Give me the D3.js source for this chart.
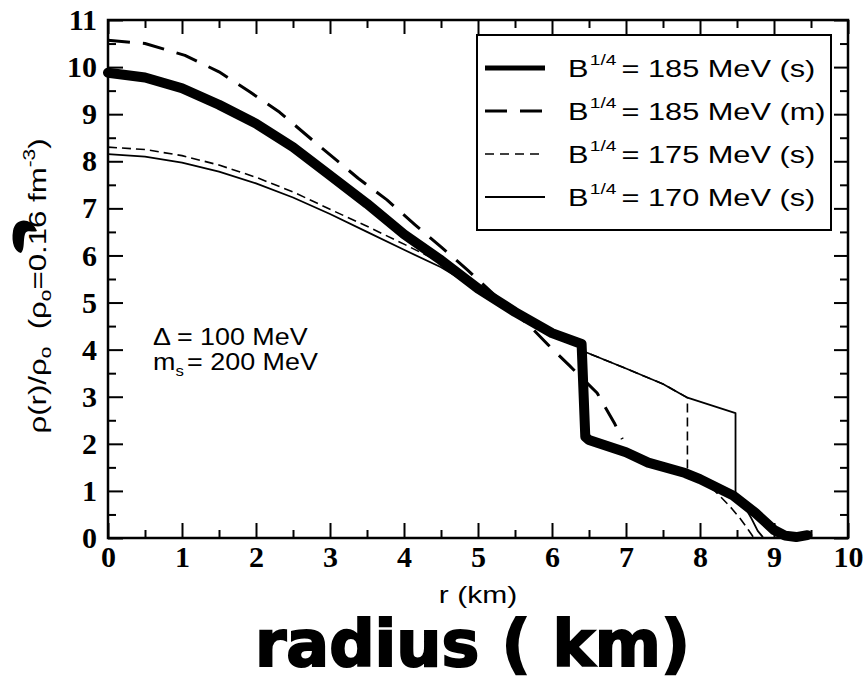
<!DOCTYPE html>
<html>
<head>
<meta charset="utf-8">
<script src="https://cdn.jsdelivr.net/npm/d3@7"></script>
<style>
body { margin: 0; background: #fff; }
</style>
</head>
<body>
<div id="chart"></div>
<script>
// values (r in km, density in units of rho_0)
var r185s   = [0, 0.5, 1, 1.5, 2, 2.5, 3, 3.5, 4, 4.5, 5, 5.5, 6, 6.4, 6.45, 6.5, 7, 7.3, 7.8, 8, 8.45, 8.75, 9.0, 9.15, 9.3, 9.45];
var rho185s = [9.88, 9.78, 9.55, 9.2, 8.8, 8.3, 7.7, 7.1, 6.45, 5.9, 5.3, 4.8, 4.35, 4.12, 2.15, 2.08, 1.82, 1.6, 1.38, 1.25, 0.9, 0.53, 0.17, 0.05, 0.02, 0.06];

var r185m   = [0, 0.5, 1.04, 1.5, 1.92, 2.32, 2.8, 3.38, 3.77, 4.15, 4.5, 4.86, 5.3, 5.7, 5.95, 6.23, 6.61, 6.85, 6.95];
var rho185m = [10.57, 10.5, 10.25, 9.9, 9.47, 9.04, 8.4, 7.64, 7.18, 6.65, 6.18, 5.69, 5.05, 4.5, 4.1, 3.67, 3.08, 2.42, 2.1];

var r175s   = [0, 0.5, 1, 1.5, 2, 2.5, 3, 3.5, 4, 4.5, 5, 5.5, 6, 6.4, 6.45, 7, 7.5, 7.83, 7.83, 8.0, 8.2, 8.4, 8.55, 8.65, 8.72];
var rho175s = [8.3, 8.25, 8.12, 7.92, 7.66, 7.35, 6.98, 6.62, 6.24, 5.85, 5.35, 4.85, 4.3, 4.05, 3.95, 3.6, 3.27, 2.98, 1.35, 1.22, 1.0, 0.68, 0.4, 0.18, 0.02];

var r170s   = [0, 0.5, 1, 1.5, 2, 2.5, 3, 3.5, 4, 4.5, 5, 5.5, 6, 6.4, 6.45, 7, 7.5, 7.83, 8.48, 8.48, 8.6, 8.7, 8.78, 8.85];
var rho170s = [8.15, 8.1, 7.97, 7.78, 7.53, 7.23, 6.88, 6.5, 6.12, 5.75, 5.28, 4.8, 4.3, 4.05, 3.95, 3.6, 3.27, 2.98, 2.65, 0.9, 0.68, 0.4, 0.15, 0.02];

var legendValues = ["185 MeV (s)", "185 MeV (m)", "175 MeV (s)", "170 MeV (s)"];
var xTicks = [0, 1, 2, 3, 4, 5, 6, 7, 8, 9, 10];
var yTicks = [0, 1, 2, 3, 4, 5, 6, 7, 8, 9, 10, 11];
var xMinor = [0.5, 1.5, 2.5, 3.5, 4.5, 5.5, 6.5, 7.5, 8.5, 9.5];
var yMinor = [0.5, 1.5, 2.5, 3.5, 4.5, 5.5, 6.5, 7.5, 8.5, 9.5, 10.5];

// line styles for the four curves
var styles = [
  {width: 10,  dash: null,   legendWidth: 5},
  {width: 3,   dash: "22,13", legendWidth: 3, legendDash: "22,13"},
  {width: 1.6, dash: "9,5",  legendWidth: 1.6, legendDash: "9,6"},
  {width: 1.8, dash: null,   legendWidth: 1.8}
];

var series = [
  d3.zip(r185s, rho185s),
  d3.zip(r185m, rho185m),
  d3.zip(r175s, rho175s),
  d3.zip(r170s, rho170s)
];

var margin = {top: 20, right: 18, bottom: 143, left: 108},
    width = 866 - margin.left - margin.right,
    height = 681 - margin.top - margin.bottom;

var svg0 = d3.select("#chart").append("svg")
    .attr("width", 866)
    .attr("height", 681);

var svg = svg0.append("g")
    .attr("transform", "translate(" + margin.left + "," + margin.top + ")");

var x = d3.scaleLinear().domain([0, 10]).range([0, width]);
var y = d3.scaleLinear().domain([0, 11]).range([height, 0]);

var line = d3.line()
    .x(function(d) { return x(d[0]); })
    .y(function(d) { return y(d[1]); });

// curves
series.forEach(function(s, i) {
  svg.append("path")
      .datum(s)
      .attr("fill", "none")
      .attr("stroke", "#000")
      .attr("stroke-width", styles[i].width)
      .attr("stroke-linejoin", "round")
      .attr("stroke-linecap", i == 0 ? "round" : "butt")
      .attr("stroke-dasharray", styles[i].dash)
      .attr("d", line);
});

// axes, ticks pointing inwards on all four sides
function styleAxis(g) {
  g.select(".domain").remove();
  g.selectAll(".tick line").attr("stroke", "#000").attr("stroke-width", 2);
  g.selectAll(".tick text")
      .attr("fill", "#000")
      .attr("font-family", "'Liberation Serif', 'DejaVu Serif', serif")
      .attr("font-weight", "bold")
      .attr("font-size", 30);
}

svg.append("g")
    .attr("transform", "translate(0," + height + ")")
    .call(d3.axisBottom(x).tickValues(xTicks).tickSize(-15).tickPadding(8).tickFormat(d3.format("d")))
    .call(styleAxis);
svg.append("g")
    .attr("transform", "translate(0," + height + ")")
    .call(d3.axisBottom(x).tickValues(xMinor).tickSize(-8).tickFormat(""))
    .call(styleAxis);
svg.append("g")
    .call(d3.axisTop(x).tickValues(xTicks).tickSize(-14).tickFormat(""))
    .call(styleAxis);
svg.append("g")
    .call(d3.axisTop(x).tickValues(xMinor).tickSize(-8).tickFormat(""))
    .call(styleAxis);

svg.append("g")
    .call(d3.axisLeft(y).tickValues(yTicks).tickSize(-15).tickPadding(11).tickFormat(d3.format("d")))
    .call(styleAxis);
svg.append("g")
    .call(d3.axisLeft(y).tickValues(yMinor).tickSize(-8).tickFormat(""))
    .call(styleAxis);
svg.append("g")
    .attr("transform", "translate(" + width + ",0)")
    .call(d3.axisRight(y).tickValues(yTicks).tickSize(-14).tickFormat(""))
    .call(styleAxis);
svg.append("g")
    .attr("transform", "translate(" + width + ",0)")
    .call(d3.axisRight(y).tickValues(yMinor).tickSize(-8).tickFormat(""))
    .call(styleAxis);

// frame
svg.append("rect")
    .attr("width", width)
    .attr("height", height)
    .attr("fill", "none")
    .attr("stroke", "#000")
    .attr("stroke-width", 2.5);

var sans = "'Liberation Sans', Arial, sans-serif";

// legend
var legend = svg0.append("g");
legend.append("rect")
    .attr("x", 477).attr("y", 35)
    .attr("width", 354).attr("height", 195)
    .attr("fill", "#fff")
    .attr("stroke", "#000")
    .attr("stroke-width", 2);

legendValues.forEach(function(lab, i) {
  var cy = 68 + i * 43;
  legend.append("line")
      .attr("x1", 485).attr("x2", 545)
      .attr("y1", cy).attr("y2", cy)
      .attr("stroke", "#000")
      .attr("stroke-width", styles[i].legendWidth)
      .attr("stroke-dasharray", styles[i].legendDash || null);
  var t = legend.append("text")
      .attr("transform", "translate(568," + (cy + 9) + ") scale(1.28,1)")
      .attr("font-family", sans)
      .attr("font-size", 24);
  t.append("tspan").text("B");
  t.append("tspan").attr("font-size", 15).attr("dy", -12).attr("dx", 1).text("1/4");
  t.append("tspan").attr("dy", 12).attr("dx", 4).text("= " + lab);
});

// parameter annotation
svg0.append("text")
    .attr("transform", "translate(153,345) scale(1.12,1)")
    .attr("font-family", sans)
    .attr("font-size", 24)
    .text("\u0394 = 100 MeV");
var ann2 = svg0.append("text")
    .attr("transform", "translate(153,370) scale(1.12,1)")
    .attr("font-family", sans)
    .attr("font-size", 24);
ann2.append("tspan").text("m");
ann2.append("tspan").attr("font-size", 15).attr("dy", 6).text("s");
ann2.append("tspan").attr("dy", -6).attr("dx", 3).text("= 200 MeV");

// axis titles
svg0.append("text")
    .attr("transform", "translate(478,603) scale(1.25,1)")
    .attr("text-anchor", "middle")
    .attr("font-family", sans)
    .attr("font-size", 24)
    .text("r (km)");

var yl = svg0.append("text")
    .attr("transform", "translate(46,286) rotate(-90) scale(1.3,1)")
    .attr("text-anchor", "middle")
    .attr("font-family", sans)
    .attr("font-size", 24);
yl.append("tspan").text("\u03c1(r)/\u03c1");
yl.append("tspan").attr("font-size", 16).attr("dy", 5).text("o");
yl.append("tspan").attr("dy", -5).text("\u00a0\u00a0(\u03c1");
yl.append("tspan").attr("font-size", 16).attr("dy", 5).text("o");
yl.append("tspan").attr("dy", -5).text("=0.16 fm");
yl.append("tspan").attr("font-size", 16).attr("dy", -11).text("-3");
yl.append("tspan").attr("dy", 11).text(")");

// handwritten additions on the scan
svg0.append("path")
    .attr("d", "M36,229 C30,217 15,218 13,231 C11,243 15,252 21,253 C25,249 23,240 25,234 C27,229 33,233 37,231 Z")
    .attr("fill", "#000");

svg0.append("text")
    .attr("x", 255).attr("y", 666)
    .attr("textLength", 435)
    .attr("lengthAdjust", "spacingAndGlyphs")
    .attr("font-family", "'DejaVu Sans', sans-serif")
    .attr("font-weight", "bold")
    .attr("font-size", 64)
    .attr("stroke", "#000")
    .attr("stroke-width", 2)
    .text("radius ( km)");
</script>
</body>
</html>
